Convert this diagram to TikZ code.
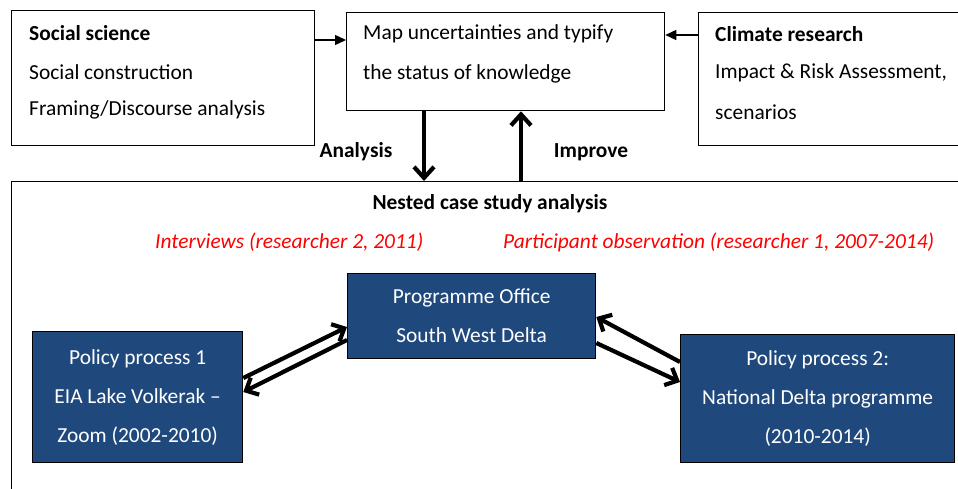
\documentclass[tikz,border=0pt]{standalone}
\usepackage{fontspec}
\setmainfont{Carlito}
\usetikzlibrary{arrows.meta}
\definecolor{boxblue}{RGB}{31,73,125}
\definecolor{labelred}{RGB}{255,0,0}
\begin{document}
\begin{tikzpicture}[x=1pt,y=-1pt,
  basefont/.style={font=\fontsize{21.4}{39}\selectfont},
  frame/.style={draw=black, line width=1.3pt, rectangle, inner sep=0pt, anchor=north west},
  bluebox/.style={frame, fill=boxblue, text=white, align=center, basefont},
  txt/.style={basefont, inner sep=0pt, anchor=west},
  btxt/.style={txt, font=\fontsize{21.4}{39}\selectfont\bfseries},
  rtxt/.style={txt, text=labelred, font=\fontsize{21.4}{39}\selectfont\itshape},
  thinarrow/.style={line width=1.5pt, -{Triangle[length=11pt,width=10pt]}},
  thickarrow/.style={line width=4.2pt, -{Straight Barb[length=11pt,width=20pt,line width=4.2pt]}},
  diagarrow/.style={line width=4.2pt, -{Straight Barb[length=10pt,width=19pt,line width=4.2pt]}},
]
\useasboundingbox (0,0) rectangle (958,489);
\clip (0,0) rectangle (958,489);

% upper row of boxes
\node[frame, minimum width=303pt, minimum height=135pt] (social) at (10.5,10) {};
\node[frame, minimum width=318pt, minimum height=98pt] (map) at (346,12) {};
\node[frame, minimum width=280pt, minimum height=133pt] (climate) at (698,12) {};

\node[btxt] (socT) at (29,33) {Social science};
\node[txt] (socA) at (29,72) {Social construction};
\node[txt] (socB) at (29,110) {Framing/Discourse analysis};

\node[txt] (mapA) at (363,34) {Map uncertainties and typify};
\node[txt] (mapB) at (363,74) {the status of knowledge};

\node[btxt] (cliT) at (715,34) {Climate research};
\node[txt] (cliA) at (715,73) {Impact \& Risk Assessment,};
\node[txt] (cliB) at (715,112) {scenarios};

% case study frame
\node[frame, minimum width=980pt, minimum height=340pt] (nested) at (10.5,181) {};
\node[btxt, anchor=center] (nestT) at (490,204) {Nested case study analysis};
\node[rtxt] (interv) at (155,242) {Interviews (researcher 2, 2011)};
\node[rtxt] (partic) at (503,242) {Participant observation (researcher 1, 2007-2014)};

% policy boxes
\node[bluebox, minimum width=248pt, minimum height=85pt] (po) at (347,273)
  {Programme Office\\South West Delta};
\node[bluebox, minimum width=210pt, minimum height=131pt] (pp1) at (32,331)
  {Policy process 1\\EIA Lake Volkerak --\\Zoom (2002-2010)};
\node[bluebox, minimum width=274pt, minimum height=128pt] (pp2) at (680,334)
  {Policy process 2:\\National Delta programme\\(2010-2014)};

% inputs to the central box
\draw[thinarrow] ([yshift=-30pt]social.north east) -- ([yshift=-28pt]map.north west);
\draw[thinarrow] ([yshift=-23pt]climate.north west) -- ([yshift=-23pt]map.north east);

% analysis / improve loop
\draw[thickarrow] ([xshift=78pt]map.south west) coordinate (ana) -- (ana |- nested.north);
\draw[thickarrow] ([xshift=175pt]map.south west) coordinate (imp) (imp |- nested.north) -- (imp);
\node[btxt, anchor=center] (anaL) at (356,152) {Analysis};
\node[btxt, anchor=center] (impL) at (591,152) {Improve};

% exchanges between the programme office and the policy processes
\draw[diagarrow] ([yshift=-47pt]pp1.north east) -- ([yshift=-54pt]po.north west);
\draw[diagarrow] ([yshift=-67pt]po.north west) -- ([yshift=-61pt]pp1.north east);
\draw[diagarrow] ([yshift=-28pt]pp2.north west) -- ([yshift=-44pt]po.north east);
\draw[diagarrow] ([yshift=-70pt]po.north east) -- ([yshift=-48pt]pp2.north west);
\end{tikzpicture}
\end{document}
